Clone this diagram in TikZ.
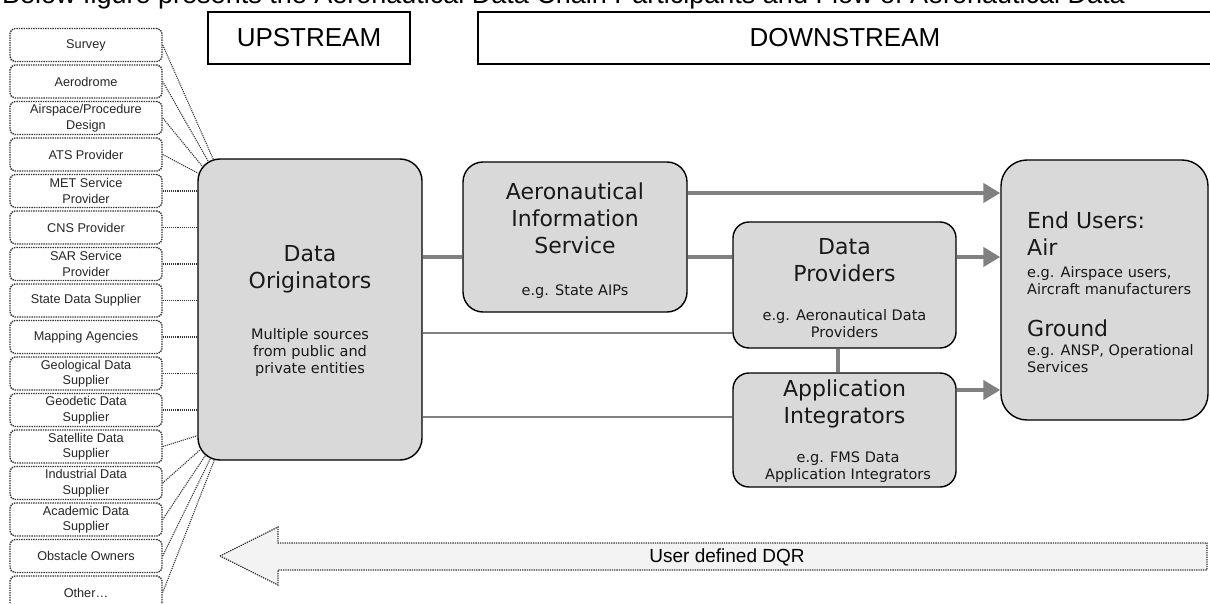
\documentclass[tikz,border=0pt]{standalone}
\usepackage{fontspec}
\setmainfont{Liberation Sans}
\newfontfamily\boxfont{DejaVu Sans}
\usetikzlibrary{arrows.meta,calc}

\definecolor{boxgray}{HTML}{D9D9D9}
\definecolor{flowgray}{HTML}{808080}
\definecolor{dqrfill}{HTML}{F3F3F3}

\begin{document}
\begin{tikzpicture}[x=1pt, y=-1pt,
        srcbox/.style={draw=black!80, densely dotted, line width=1.4pt, rounded corners=5pt, fill=white,
            minimum width=152pt, minimum height=33pt, inner sep=1pt, align=center, text=black!85,
            font=\fontsize{12.7}{15.5}\selectfont},
        feed/.style={draw=black!80, densely dotted, line width=1.1pt},
        bigbox/.style={draw=black, line width=1.4pt, fill=boxgray, rounded corners=20pt},
        headbox/.style={draw=black, line width=2.2pt, minimum height=52pt, font=\fontsize{26}{30}\selectfont},
        bigtxt/.style={align=center, inner sep=0pt, text=black!90, font=\boxfont\fontsize{22}{27}\selectfont},
        smalltxt/.style={align=center, inner sep=0pt, text=black!90, font=\boxfont\fontsize{14.5}{17}\selectfont},
        flow/.style={draw=flowgray, line width=4.5pt},
        flowarrow/.style={flow, -{Triangle[length=17pt,width=19pt]}},
        sideline/.style={draw=flowgray, line width=1.8pt}]

    \useasboundingbox (0,0) rectangle (1210,604);

    \node[anchor=base west, inner sep=0pt, font=\fontsize{27}{30}\selectfont] (title) at (2,4)
        {Below figure presents the Aeronautical Data Chain Participants and Flow of Aeronautical Data};

    \node[headbox, minimum width=202pt] (up) at (309,38) {UPSTREAM};
    \node[headbox, minimum width=734pt] (down) at (845,38) {DOWNSTREAM};

    % data sources
    \foreach[count=\i] \src in {Survey, Aerodrome, {Airspace/Procedure\\Design}, ATS Provider,
            {MET Service\\Provider}, CNS Provider, {SAR Service\\Provider}, State Data Supplier,
            Mapping Agencies, {Geological Data\\Supplier}, {Geodetic Data\\Supplier},
            {Satellite Data\\Supplier}, {Industrial Data\\Supplier}, {Academic Data\\Supplier},
            Obstacle Owners, Other\ldots}
        \node[srcbox] (src\i) at (86, 8.5+36.5*\i) {\src};

    \node[bigbox, minimum width=224pt, minimum height=301pt, rounded corners=22pt] (orig) at (310,309.5) {};
    \node[bigbox, minimum width=224pt, minimum height=150pt] (ais) at (575,237) {};
    \node[bigbox, minimum width=223pt, minimum height=126pt, rounded corners=16pt] (prov) at (844.5,285) {};
    \node[bigbox, minimum width=223pt, minimum height=114pt, rounded corners=16pt] (integ) at (844.5,430) {};
    \node[bigbox, minimum width=207pt, minimum height=260pt, rounded corners=26pt] (users) at (1104.5,290) {};

    \node[bigtxt] (orig-t) at (310,269) {Data\\Originators};
    \node[smalltxt] (orig-s) at (310,352) {Multiple sources\\from public and\\private entities};
    \node[bigtxt] (ais-t) at (575,218) {Aeronautical\\Information\\Service};
    \node[smalltxt] (ais-s) at (575,292) {e.g. State AIPs};
    \node[bigtxt] (prov-t) at (844.5,260) {Data\\Providers};
    \node[smalltxt] (prov-s) at (844.5,323.5) {e.g. Aeronautical Data\\Providers};
    \node[bigtxt] (integ-t) at (844.5,403.5) {Application\\Integrators};
    \node[smalltxt] (integ-s) at (848,467) {e.g. FMS Data\\Application Integrators};
    \node[bigtxt, anchor=west, align=left] (users-a) at (1027,233.5) {End Users:\\Air};
    \node[smalltxt, anchor=west, align=left] (users-b) at (1027,280.5) {e.g. Airspace users,\\Aircraft manufacturers};
    \node[bigtxt, anchor=west, align=left] (users-c) at (1027,328) {Ground};
    \node[smalltxt, anchor=west, align=left] (users-d) at (1027,358.5) {e.g. ANSP, Operational\\Services};

    \foreach \i/\dx/\dy in {1/16/1, 2/11/3, 3/5/8, 4/1/15}
        \draw[feed] (src\i.east) -- ($(orig.north west)+(\dx,\dy)$);
    \foreach \i in {5,...,11}
        \draw[feed] (src\i.east) -- (src\i.east -| orig.west);
    \foreach \i/\dx/\dy in {12/0/-25, 13/3/-11, 14/8/-5, 15/13/-2, 16/17/-0.5}
        \draw[feed] (src\i.east) -- ($(orig.south west)+(\dx,\dy)$);

    \draw[flow] ([yshift=52.5pt]orig.east) -- ([yshift=52.5pt]orig.east -| ais.west);
    \draw[flowarrow] ([yshift=44pt]ais.east) -- ([yshift=44pt]ais.east -| users.west);
    \draw[flow] ([yshift=-20pt]ais.east) -- ([yshift=-20pt]ais.east -| prov.west);
    \draw[flowarrow] ([yshift=28pt]prov.east) -- ([yshift=28pt]prov.east -| users.west);
    \draw[flowarrow] ([yshift=40pt]integ.east) -- ([yshift=40pt]integ.east -| users.west);
    \draw[flow] ([xshift=-6.5pt]prov.south) -- ([xshift=-6.5pt]integ.north);
    \draw[sideline] ([yshift=-23.5pt]orig.east) -- ([yshift=-23.5pt]orig.east -| prov.west);
    \draw[sideline] ([yshift=-107.5pt]orig.east) -- ([yshift=-107.5pt]orig.east -| integ.west);

    \draw[draw=black!80, densely dotted, line width=1.3pt, fill=dqrfill]
        (220,556) -- (278,527) -- (278,543) -- (1207,543) -- (1207,570) -- (278,570) -- (278,585) -- cycle;
    \node[font=\fontsize{19}{22}\selectfont] (dqr) at (727,557) {User defined DQR};
\end{tikzpicture}
\end{document}
